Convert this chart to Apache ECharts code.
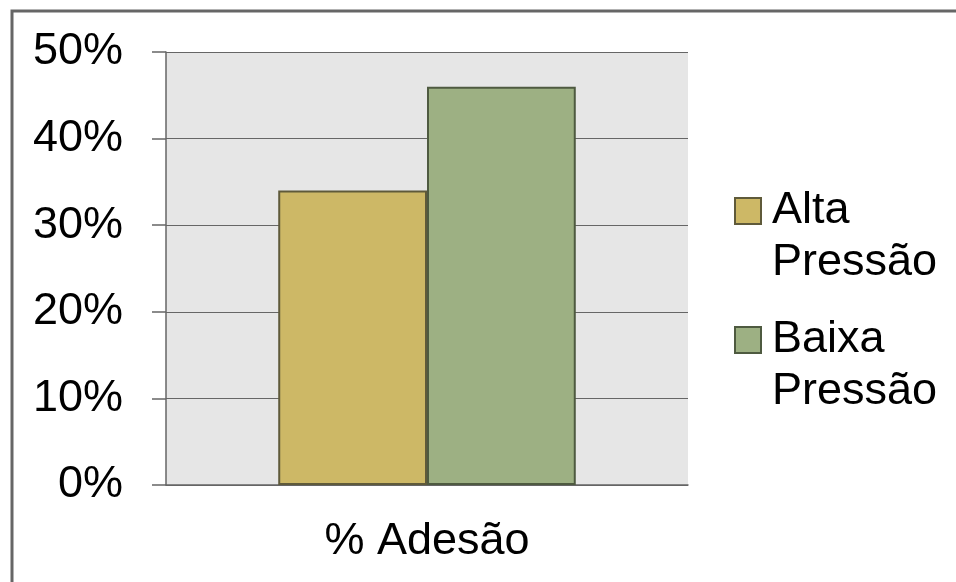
<!DOCTYPE html>
<html>
<head>
<meta charset="utf-8">
<script src="https://cdn.jsdelivr.net/npm/echarts@6/dist/echarts.min.js"></script>
<style>
html,body{margin:0;padding:0;background:#fff;}
#chart{width:956px;height:582px;}
</style>
</head>
<body>
<div id="chart"></div>
<script>
var categories = ['% Adesão'];
var seriesNames = ['Alta Pressão', 'Baixa Pressão'];
var altaValues = [34];
var baixaValues = [46];
var yTicks = [0, 10, 20, 30, 40, 50];

var FONT = "'Liberation Sans', Arial, sans-serif";
var chart = echarts.init(document.getElementById('chart'));
chart.setOption({
  backgroundColor: '#ffffff',
  animation: false,
  graphic: [{
    type: 'polyline',
    shape: { points: [[12, 600], [12, 11], [1000, 11]] },
    style: { stroke: '#666666', lineWidth: 3, fill: null },
    silent: true
  }],
  grid: {
    left: 166, right: 268, top: 52, bottom: 97,
    show: true, backgroundColor: '#e6e6e6', borderWidth: 0
  },
  legend: {
    orient: 'vertical',
    left: 729,
    top: 128,
    itemWidth: 26,
    itemHeight: 26,
    itemGap: -27,
    icon: 'rect',
    formatter: function (n) { return '\n' + n.replace(' ', '\n'); },
    textStyle: {
      fontFamily: FONT, fontSize: 45, color: '#000', lineHeight: 52,
      padding: [0, 0, 0, 6]
    },
    data: seriesNames
  },
  xAxis: {
    type: 'category',
    data: categories,
    axisLine: { show: true, lineStyle: { color: '#666666', width: 1.5 } },
    axisTick: { show: false },
    axisLabel: { fontFamily: FONT, fontSize: 45, color: '#000', margin: 34 }
  },
  yAxis: {
    type: 'value',
    min: yTicks[0],
    max: yTicks[yTicks.length - 1],
    interval: 10,
    axisLine: { show: true, lineStyle: { color: '#666666', width: 1.5 } },
    axisTick: { show: true, inside: false, length: 14, lineStyle: { color: '#666666', width: 1.5 } },
    splitLine: { show: true, lineStyle: { color: '#666666', width: 1.2 } },
    axisLabel: { fontFamily: FONT, fontSize: 45, color: '#000', margin: 43, formatter: '{value}%' }
  },
  series: [{
    name: seriesNames[0],
    type: 'bar',
    data: altaValues,
    barGap: '0%',
    barCategoryGap: '43%',
    itemStyle: { color: '#cdb866', borderColor: '#5f5a3a', borderWidth: 2 }
  }, {
    name: seriesNames[1],
    type: 'bar',
    data: baixaValues,
    itemStyle: { color: '#9db083', borderColor: '#4e5a40', borderWidth: 2 }
  }]
});
</script>
</body>
</html>
